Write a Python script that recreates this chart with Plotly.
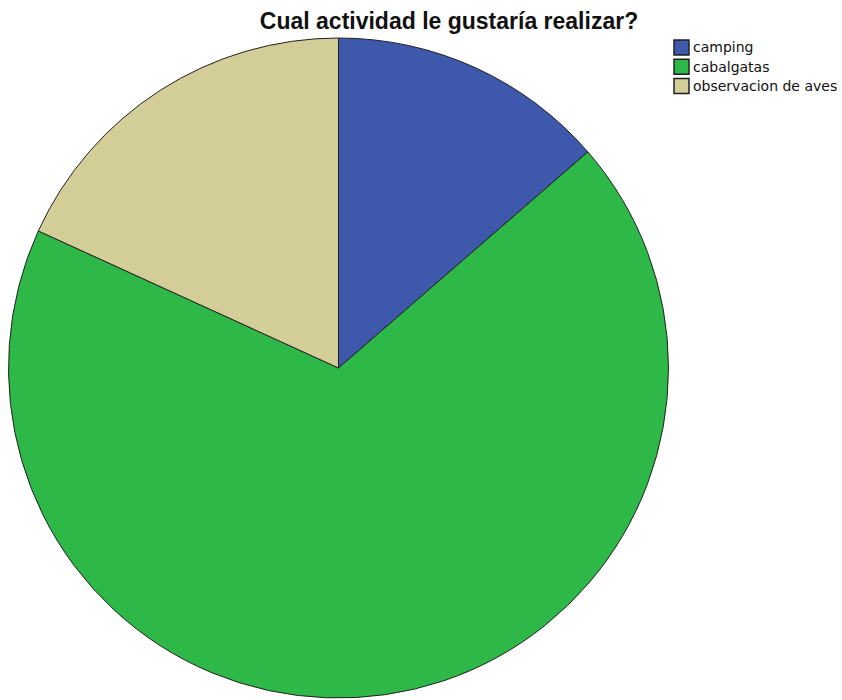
import plotly.graph_objects as go

# Survey responses: preferred activity
categories = ["camping", "cabalgatas", "observacion de aves"]
counts = [3, 15, 4]
colors = ["#3E58AC", "#2EB848", "#D3CE97"]

W, H = 842, 700
cx, cy, r = 338.5, 368, 330

fig = go.Figure(
    go.Pie(
        labels=categories,
        values=counts,
        sort=False,
        direction="clockwise",
        rotation=0,
        textinfo="none",
        showlegend=False,
        marker=dict(colors=colors, line=dict(color="#222222", width=1)),
        domain=dict(
            x=[(cx - r) / W, (cx + r) / W],
            y=[(H - cy - r) / H, (H - cy + r) / H],
        ),
    )
)

# Legend: colour swatches with labels, laid out in pixel units
box_x, box_top, box_size, row_gap = 674, 40, 15, 19.3
for i, (name, col) in enumerate(zip(categories, colors)):
    top = box_top + i * row_gap
    fig.add_shape(
        type="rect",
        xref="paper", yref="paper",
        x0=box_x / W, x1=(box_x + box_size) / W,
        y0=1 - (top + box_size) / H, y1=1 - top / H,
        fillcolor=col,
        line=dict(color="#222222", width=1.5),
    )
    fig.add_annotation(
        xref="paper", yref="paper",
        x=(box_x + box_size + 3) / W,
        y=1 - (top + box_size / 2) / H,
        xanchor="left", yanchor="middle",
        text=name,
        showarrow=False,
        font=dict(family="DejaVu Sans, sans-serif", size=14, color="#111111"),
        borderpad=0,
    )

fig.update_layout(
    width=W,
    height=H,
    margin=dict(l=0, r=0, t=0, b=0),
    paper_bgcolor="white",
    plot_bgcolor="white",
    font=dict(family="Liberation Sans, Arial, sans-serif", color="#000000"),
    title=dict(
        text="<b>Cual actividad le gustaría realizar?</b>",
        x=449 / W,
        xanchor="center",
        y=1 - 20.5 / H,
        yanchor="middle",
        font=dict(size=23, color="#111111"),
    ),
)

fig.write_html("out.html")
